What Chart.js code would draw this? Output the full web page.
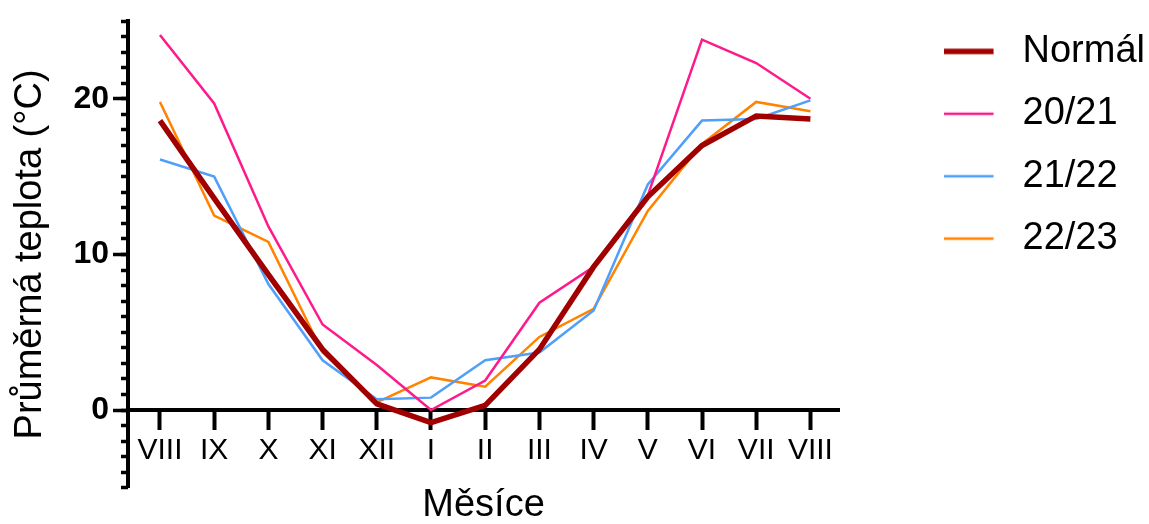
<!DOCTYPE html>
<html lang="cs">
<head>
<meta charset="UTF-8">
<title>Průměrná teplota</title>
<script src="https://cdn.jsdelivr.net/npm/chart.js"></script>
<style>
  html, body { margin: 0; padding: 0; background: #fff; }
  #wrap { width: 1149px; height: 524px; }
</style>
</head>
<body>
<div id="wrap"><canvas id="chart" width="1149" height="524"></canvas></div>
<script>
const months = ['VIII', 'IX', 'X', 'XI', 'XII', 'I', 'II', 'III', 'IV', 'V', 'VI', 'VII', 'VIII'];
const yTickValues = [0, 10, 20];
const normal = [18.6, 13.6, 8.7, 3.9, 0.4, -0.8, 0.3, 3.9, 9.2, 13.7, 17.0, 18.9, 18.7];
const season2021 = [24.1, 19.7, 11.8, 5.5, 2.9, 0.0, 1.9, 6.9, 9.2, 13.8, 23.8, 22.3, 20.0];
const season2122 = [16.1, 15.0, 8.1, 3.2, 0.7, 0.8, 3.2, 3.7, 6.4, 14.5, 18.6, 18.7, 19.9];
const season2223 = [19.8, 12.5, 10.8, 3.7, 0.5, 2.1, 1.5, 4.7, 6.5, 12.8, 17.1, 19.8, 19.2];

const FONT = "'Liberation Sans', Arial, Helvetica, sans-serif";
Chart.defaults.font.family = FONT;
Chart.defaults.color = '#000';

// small line sample for the legend (line 50px long, image a bit wider to set the text gap)
function legendLine(color, width) {
    const c = document.createElement('canvas');
    c.width = 60;
    c.height = 8;
    const g = c.getContext('2d');
    g.strokeStyle = color;
    g.lineWidth = width;
    g.beginPath();
    g.moveTo(0, 4);
    g.lineTo(50, 4);
    g.stroke();
    return c;
}

function series(label, values, color, width) {
    return {
        label: label,
        data: values.map((v, i) => ({ x: i, y: v })),
        borderColor: color,
        backgroundColor: color,
        borderWidth: width,
        pointRadius: 0,
        tension: 0,
        fill: false,
        xAxisID: 'x',
        yAxisID: 'y',
        legendImg: legendLine(color, width)
    };
}

const chart = new Chart(document.getElementById('chart'), {
    type: 'line',
    data: {
        datasets: [
            series('Normál', normal, '#a00000', 5.5),
            series('20/21', season2021, '#ff1a8c', 2.5),
            series('21/22', season2122, '#4f9ffb', 2.5),
            series('22/23', season2223, '#ff8200', 2.5)
        ]
    },
    options: {
        responsive: false,
        animation: false,
        events: [],
        layout: { padding: { top: 8, right: -6, bottom: 0, left: 0 } },
        plugins: {
            tooltip: { enabled: false },
            legend: {
                position: 'right',
                align: 'start',
                maxWidth: 320,
                labels: {
                    usePointStyle: true,
                    pointStyleWidth: 60,
                    padding: 24.4,
                    color: '#000',
                    font: { family: FONT, size: 38 },
                    generateLabels: (c) => Chart.defaults.plugins.legend.labels.generateLabels(c).map((item) => {
                        item.pointStyle = c.data.datasets[item.datasetIndex].legendImg;
                        return item;
                    })
                }
            }
        },
        scales: {
            x: {
                type: 'linear',
                axis: 'x',
                position: { y: 0 },
                min: -0.59,
                max: 12.53,
                afterBuildTicks: (s) => { s.ticks = months.map((m, i) => ({ value: i })); },
                ticks: {
                    callback: (v) => months[v],
                    autoSkip: false,
                    maxRotation: 0,
                    padding: 5,
                    color: '#000',
                    font: { family: FONT, size: 30 }
                },
                grid: { drawOnChartArea: false, tickLength: 18, tickWidth: 4, tickColor: '#000' },
                border: { color: '#000', width: 4 }
            },
            xTitle: {
                type: 'linear',
                axis: 'x',
                position: 'bottom',
                ticks: { display: false },
                grid: { display: false, drawTicks: false },
                border: { display: false },
                title: {
                    display: true,
                    text: 'Měsíce',
                    color: '#000',
                    padding: 0,
                    font: { family: FONT, size: 38, lineHeight: 0.95 }
                }
            },
            y: {
                type: 'linear',
                axis: 'y',
                position: 'left',
                weight: 1,
                min: -5,
                max: 25,
                afterBuildTicks: (s) => { s.ticks = yTickValues.map((v) => ({ value: v })); },
                afterFit: (s) => { s.width = 128; s.paddingTop = 21; s.paddingBottom = 0; },
                ticks: {
                    padding: 4,
                    color: '#000',
                    font: { family: FONT, size: 32, weight: 'bold' }
                },
                grid: { drawOnChartArea: false, tickLength: 15, tickWidth: 3.5, tickColor: '#000' },
                border: { color: '#000', width: 4 },
                title: {
                    display: true,
                    text: 'Průměrná teplota (°C)',
                    color: '#000',
                    padding: { top: 8, bottom: 0 },
                    font: { family: FONT, size: 38 }
                }
            },
            yMinor: {
                type: 'linear',
                axis: 'y',
                position: 'left',
                weight: 0,
                min: -5,
                max: 25,
                ticks: { display: false, stepSize: 1 },
                grid: { drawOnChartArea: false, tickLength: 7, tickWidth: 3.5, tickColor: '#000' },
                border: { display: false },
                afterFit: (s) => { s.width = 0; }
            },
            yGap: {
                type: 'linear',
                axis: 'y',
                position: 'right',
                ticks: { display: false },
                grid: { display: false, drawTicks: false },
                border: { display: false },
                afterFit: (s) => { s.width = 80; }
            }
        }
    }
});
</script>
</body>
</html>
